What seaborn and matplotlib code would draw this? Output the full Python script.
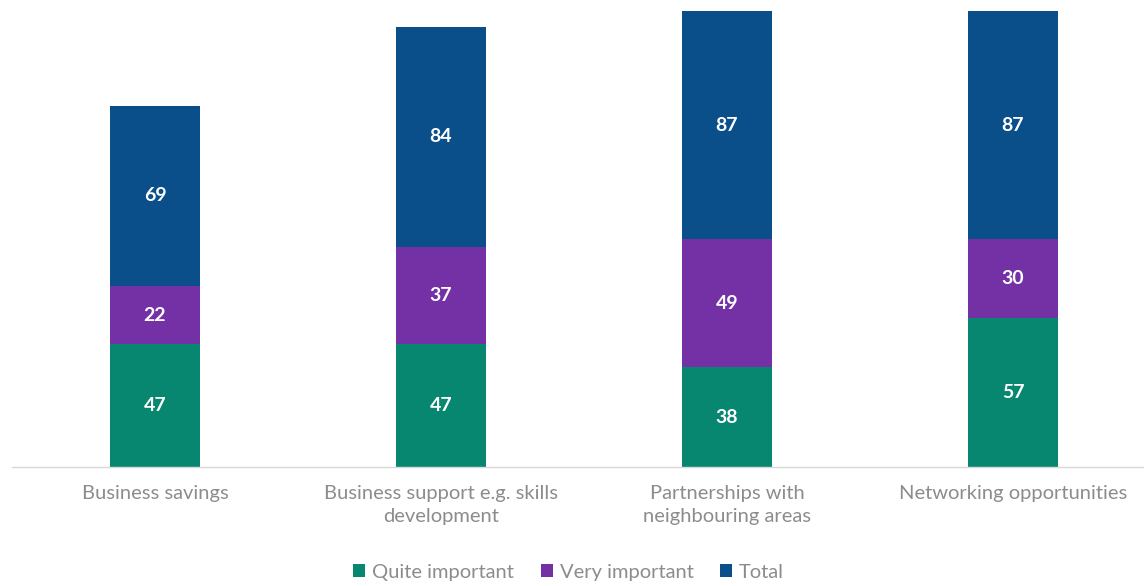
import matplotlib
matplotlib.use("Agg")
import matplotlib.pyplot as plt
import seaborn as sns
import pandas as pd
import numpy as np
from matplotlib.patches import Patch

categories = [
    "Business savings",
    "Business support e.g. skills\ndevelopment",
    "Partnerships with\nneighbouring areas",
    "Networking opportunities",
]
quite_important = [47, 47, 38, 57]
very_important = [22, 37, 49, 30]
total = [69, 84, 87, 87]

series_names = ["Quite important", "Very important", "Total"]
series_values = [quite_important, very_important, total]
colors = ["#07876F", "#7431A6", "#0B4F8A"]

sns.set_theme(style="white")
plt.rcParams["font.family"] = ["Lato", "DejaVu Sans"]

fig = plt.figure(figsize=(11.44, 5.86), dpi=100)
# axes extend slightly past the right edge of the canvas
ax = fig.add_axes([12 / 1144, 119 / 586, 1144 / 1144, 467 / 586])

bottoms = np.zeros(len(categories))
for name, vals, col in zip(series_names, series_values, colors):
    df = pd.DataFrame({"category": categories, "value": vals})
    sns.barplot(data=df, x="category", y="value", color=col, width=0.315,
                bottom=bottoms, saturation=1, ax=ax, linewidth=0,
                errorbar=None, order=categories)
    for i, v in enumerate(vals):
        ax.text(i, bottoms[i] + v / 2, f"{v}", ha="center", va="center",
                color="white", fontsize=14, fontweight="bold")
    bottoms = bottoms + np.array(vals)

ax.set_xlim(-0.5, 3.5)
ax.set_ylim(0, 178.3)
ax.set_xlabel("")
ax.set_ylabel("")
ax.set_yticks([])
for s in ["top", "right", "left"]:
    ax.spines[s].set_visible(False)
ax.spines["bottom"].set_color("#D9D9D9")
ax.spines["bottom"].set_linewidth(1)
ax.tick_params(axis="x", length=0, pad=13, labelsize=14.5, labelcolor="#8C8C8C")
for lbl in ax.get_xticklabels():
    lbl.set_linespacing(1.45)

handles = [Patch(facecolor=c, edgecolor="none", label=n) for n, c in zip(series_names, colors)]
fig.legend(handles=handles, loc="lower center", bbox_to_anchor=(0.497, -0.022), ncol=3,
           frameon=False, fontsize=14.5, labelcolor="#8C8C8C", handlelength=0.6,
           handleheight=0.6, handletextpad=0.35, columnspacing=1.3)

fig.savefig("out.png", dpi=100)
